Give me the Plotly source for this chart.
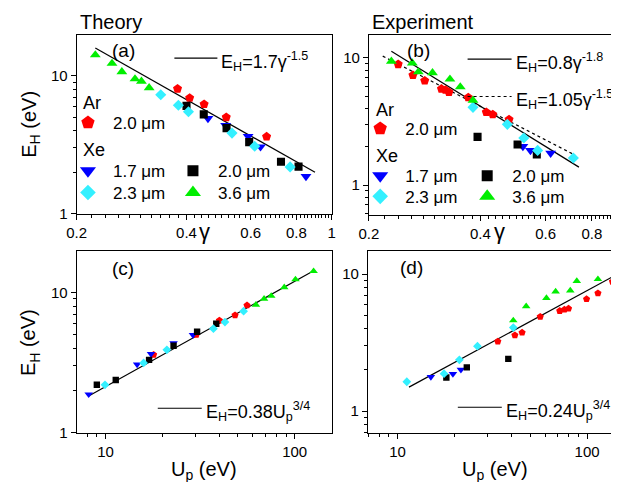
import numpy as np
import plotly.graph_objects as go

W, H = 619, 482
FONT = "Liberation Sans, Arial, sans-serif"

# ---------------- data ----------------
# panel (a): theory, E_H vs gamma
a_ar20_g = [0.378, 0.408, 0.447, 0.514, 0.663]
a_ar20_e = [8.05, 6.91, 6.23, 5.00, 3.62]
a_xe17_g = [0.458, 0.512, 0.590, 0.638, 0.850]
a_xe17_e = [4.91, 4.36, 3.64, 3.05, 1.86]
a_xe20_g = [0.400, 0.446, 0.515, 0.594, 0.726, 0.811]
a_xe20_e = [6.05, 5.25, 4.17, 3.30, 2.38, 2.19]
a_xe23_g = [0.340, 0.380, 0.405, 0.533, 0.615, 0.769]
a_xe23_e = [7.29, 6.12, 5.49, 3.84, 3.08, 2.18]
a_xe36_g = [0.225, 0.250, 0.266, 0.289, 0.301, 0.316]
a_xe36_e = [14.2, 12.3, 10.7, 9.49, 9.13, 8.18]
a_fit_g = [0.225, 0.90]

# panel (b): experiment, E_H vs gamma
b_ar20_g = [0.240, 0.263, 0.283, 0.314, 0.322, 0.329, 0.371, 0.415, 0.432, 0.478]
b_ar20_e = [8.89, 7.31, 6.60, 5.70, 5.59, 5.36, 4.88, 3.74, 3.59, 3.28]
b_xe17_g = [0.521, 0.546, 0.619]
b_xe17_e = [2.01, 1.87, 1.78]
b_xe20_g = [0.393, 0.504, 0.568]
b_xe20_e = [2.39, 2.08, 1.74]
b_xe23_g = [0.382, 0.473, 0.524, 0.571, 0.713]
b_xe23_e = [4.08, 3.00, 2.34, 1.87, 1.63]
b_xe36_g = [0.230, 0.262, 0.272, 0.297, 0.331, 0.353, 0.382]
b_xe36_e = [9.38, 9.10, 7.75, 7.62, 6.80, 5.90, 4.63]
b_fit1_g = [0.230, 0.738]
b_fit2_g = [0.218, 0.720]

# panel (c): theory, E_H vs Up
c_ar20_u = [17.96, 30.2, 40.0, 48.4, 56.0]
c_ar20_e = [3.61, 5.01, 6.32, 6.90, 8.11]
c_xe17_u = [8.15, 14.7, 17.4, 22.9, 29.0]
c_xe17_e = [1.88, 3.07, 3.65, 4.36, 4.99]
c_xe20_u = [9.0, 11.33, 17.0, 22.9, 30.5, 38.5]
c_xe20_e = [2.20, 2.38, 3.31, 4.18, 5.26, 5.99]
c_xe23_u = [9.94, 15.9, 21.1, 37.2, 42.8, 53.7]
c_xe23_e = [2.20, 3.15, 3.91, 5.53, 6.16, 7.36]
c_xe36_u = [62.4, 68.9, 75.2, 88.1, 101.0, 125.9]
c_xe36_e = [8.18, 9.02, 9.47, 10.9, 12.4, 14.2]
c_fit_u = [8.15, 126.0]

# panel (d): experiment, E_H vs Up
d_ar20_u = [33.8, 41.6, 45.4, 56.6, 71.7, 75.9, 79.8, 99.3, 114.0, 136.0]
d_ar20_e = [3.23, 3.59, 3.75, 4.89, 5.40, 5.52, 5.61, 6.58, 7.27, 8.82]
d_xe17_u = [15.0, 19.6, 21.6]
d_xe17_e = [1.78, 1.87, 2.01]
d_xe20_u = [18.1, 23.2, 38.4]
d_xe20_e = [1.76, 2.09, 2.41]
d_xe23_u = [11.2, 17.6, 21.2, 26.4, 40.8]
d_xe23_e = [1.64, 1.88, 2.37, 2.98, 4.08]
d_xe36_u = [40.8, 47.7, 61.0, 68.2, 81.5, 88.2, 114.0]
d_xe36_e = [4.60, 5.83, 6.69, 7.47, 7.60, 8.90, 9.20]
d_fit_u = [11.5, 136.0]

gamma_ticks = [0.2, 0.4, 0.6, 0.8, 1.0]
gamma_ticktext = ["0.2", "0.4", "0.6", "0.8", "1"]
up_ticks = [10, 100]
up_ticktext = ["10", "100"]
eh_ticks = [1, 10]
eh_ticktext = ["1", "10"]

# ---------------- styles ----------------
RED, BLUE, BLACK, CYAN, GREEN = "#FF0000", "#0000FF", "#000000", "#33F0FF", "#00EE00"
series_style = {
    "ar20": dict(color=RED, symbol="pentagon", name="2.0 μm", scale=1.0, lsize=14),
    "xe17": dict(color=BLUE, symbol="triangle-down", name="1.7 μm", scale=1.0, lsize=14),
    "xe20": dict(color=BLACK, symbol="square", name="2.0 μm", scale=0.85, lsize=11),
    "xe23": dict(color=CYAN, symbol="diamond", name="2.3 μm", scale=0.9, lsize=12),
    "xe36": dict(color=GREEN, symbol="triangle-up", name="3.6 μm", scale=1.0, lsize=14),
}


def P(x):
    return x / W


def Q(y):
    return 1 - y / H


fig = go.Figure()

panels = {
    "a": ("x", "y", {"ar20": (a_ar20_g, a_ar20_e), "xe17": (a_xe17_g, a_xe17_e),
                     "xe20": (a_xe20_g, a_xe20_e), "xe23": (a_xe23_g, a_xe23_e),
                     "xe36": (a_xe36_g, a_xe36_e)}, 9.5),
    "b": ("x2", "y2", {"ar20": (b_ar20_g, b_ar20_e), "xe17": (b_xe17_g, b_xe17_e),
                       "xe20": (b_xe20_g, b_xe20_e), "xe23": (b_xe23_g, b_xe23_e),
                       "xe36": (b_xe36_g, b_xe36_e)}, 9.5),
    "c": ("x3", "y3", {"ar20": (c_ar20_u, c_ar20_e), "xe17": (c_xe17_u, c_xe17_e),
                       "xe20": (c_xe20_u, c_xe20_e), "xe23": (c_xe23_u, c_xe23_e),
                       "xe36": (c_xe36_u, c_xe36_e)}, 7.5),
    "d": ("x4", "y4", {"ar20": (d_ar20_u, d_ar20_e), "xe17": (d_xe17_u, d_xe17_e),
                       "xe20": (d_xe20_u, d_xe20_e), "xe23": (d_xe23_u, d_xe23_e),
                       "xe36": (d_xe36_u, d_xe36_e)}, 7.5),
}


# fit lines
def fitline(xs, coef, power, xa, ya, dash="solid"):
    xx = np.geomspace(xs[0], xs[1], 40)
    fig.add_trace(go.Scatter(x=xx, y=coef * xx ** power, mode="lines", xaxis=xa, yaxis=ya,
                             line=dict(color="black", width=1.2, dash=dash), showlegend=False,
                             hoverinfo="skip"))


fitline(a_fit_g, 1.7, -1.5, "x", "y")
fitline(b_fit1_g, 0.8, -1.8, "x2", "y2")
fitline(b_fit2_g, 1.05, -1.5, "x2", "y2", dash="dot")
fitline(c_fit_u, 0.38, 0.75, "x3", "y3")
fitline(d_fit_u, 0.24, 0.75, "x4", "y4")

for key, (xa, ya, ser, msize) in panels.items():
    for sk in ["ar20", "xe17", "xe20", "xe23", "xe36"]:
        xs, ys = ser[sk]
        st = series_style[sk]
        fig.add_trace(go.Scatter(x=xs, y=ys, mode="markers", xaxis=xa, yaxis=ya,
                                 marker=dict(color=st["color"], symbol=st["symbol"],
                                             size=msize * st["scale"], line=dict(width=0)),
                                 showlegend=False, name=st["name"]))

# legend entries (markers only, no data)
legend_map = {
    "a": {"ar20": "legend", "xe17": "legend2", "xe20": "legend2", "xe23": "legend3", "xe36": "legend3"},
    "b": {"ar20": "legend4", "xe17": "legend5", "xe20": "legend5", "xe23": "legend6", "xe36": "legend6"},
}
for key, m in legend_map.items():
    xa, ya = panels[key][0], panels[key][1]
    for sk in ["ar20", "xe17", "xe20", "xe23", "xe36"]:
        st = series_style[sk]
        fig.add_trace(go.Scatter(x=[None], y=[None], mode="markers", xaxis=xa, yaxis=ya,
                                 marker=dict(color=st["color"], symbol=st["symbol"], size=st["lsize"],
                                             line=dict(width=0)),
                                 name=st["name"], legend=m[sk], showlegend=True))


def leg(x, y, orient="v", entrywidth=None):
    d = dict(x=P(x), y=Q(y), xref="paper", yref="paper", xanchor="left", yanchor="middle",
             bgcolor="rgba(0,0,0,0)", borderwidth=0, orientation=orient,
             font=dict(family=FONT, size=17, color="black"), itemsizing="trace",
             itemwidth=40, tracegroupgap=0, itemclick=False, itemdoubleclick=False)
    if entrywidth:
        d["entrywidth"] = entrywidth
        d["entrywidthmode"] = "pixels"
    return d


LX = 39
fig.update_layout(
    legend=leg(85 - LX, 117),
    legend2=leg(85 - LX, 166, "h", 50),
    legend3=leg(85 - LX, 188, "h", 50),
    legend4=leg(384 - LX, 123),
    legend5=leg(384 - LX, 171, "h", 52),
    legend6=leg(384 - LX, 192, "h", 52),
)


def logaxis(domain_px, rng, tickvals, ticktext, minor_vals, anchor, horiz):
    if horiz:
        dom = [P(domain_px[0]), P(domain_px[1])]
    else:
        dom = [Q(domain_px[1]), Q(domain_px[0])]
    return dict(type="log", domain=dom, range=rng, tickmode="array", tickvals=tickvals,
                ticktext=ticktext, ticks="outside", ticklen=5, tickwidth=1, tickcolor="black",
                showline=True, linecolor="black", linewidth=1, mirror=True, showgrid=False,
                zeroline=False, tickfont=dict(family=FONT, size=15, color="black"),
                minor=dict(tickmode="array", tickvals=minor_vals, ticks="outside", ticklen=3,
                           tickcolor="black", tickwidth=1, showgrid=False),
                anchor=anchor, fixedrange=True)


g_minor = [round(0.2 + 0.02 * i, 2) for i in range(41)]
g_minor = [v for v in g_minor if v not in gamma_ticks]
e_minor = [0.6, 0.7, 0.8, 0.9, 2, 3, 4, 5, 6, 7, 8, 9, 20]
u_minor = [7, 8, 9, 20, 30, 40, 50, 60, 70, 80, 90, 200]

fig.update_layout(
    xaxis=logaxis([60, 321], [np.log10(0.2), 0.0], gamma_ticks, gamma_ticktext, g_minor, "y", True),
    yaxis=logaxis([27, 209], [0.0, 1.3], eh_ticks, eh_ticktext, e_minor, "x", False),
    xaxis2=logaxis([359, 618], [np.log10(0.2), -0.0156], gamma_ticks, gamma_ticktext, g_minor, "y2", True),
    yaxis2=logaxis([27, 210], [-0.232, 1.183], eh_ticks, eh_ticktext, e_minor, "x2", False),
    xaxis3=logaxis([60, 321], [0.8475, 2.196], up_ticks, up_ticktext, u_minor, "y3", True),
    yaxis3=logaxis([247, 432], [0.0, 1.297], eh_ticks, eh_ticktext, e_minor, "x3", False),
    xaxis4=logaxis([358, 618], [0.844, 2.184], up_ticks, up_ticktext, u_minor, "y4", True),
    yaxis4=logaxis([247, 432], [-0.158, 1.170], eh_ticks, eh_ticktext, e_minor, "x4", False),
)

ann = []


def text(x, y, s, size=17, xanchor="left", yanchor="middle", angle=0):
    ann.append(dict(x=P(x), y=Q(y), xref="paper", yref="paper", text=s, showarrow=False,
                    xanchor=xanchor, yanchor=yanchor, textangle=angle,
                    font=dict(family=FONT, size=size, color="black")))


text(61, 14, "Theory", 20)
text(360, 14, "Experiment", 20)
text(94, 43, "(a)", 19)
text(396, 43, "(b)", 19)
text(94, 265, "(c)", 19)
text(389, 264, "(d)", 19)
text(64, 97, "Ar", 18)
text(64, 144, "Xe", 18)
text(364, 104, "Ar", 18)
text(364, 151, "Xe", 18)

# fit-line legend samples
shapes = []


def sample(x0, x1, y, dash="solid"):
    shapes.append(dict(type="line", xref="paper", yref="paper", x0=P(x0), x1=P(x1), y0=Q(y), y1=Q(y),
                       line=dict(color="black", width=1.2, dash=dash)))


sample(160, 204, 51)
text(206, 54, "E<sub>H</sub>=1.7γ<sup>-1.5</sup>", 18)
sample(460, 505, 52)
text(507, 55, "E<sub>H</sub>=0.8γ<sup>-1.8</sup>", 18)
sample(460, 505, 90, "dot")
text(507, 93, "E<sub>H</sub>=1.05γ<sup>-1.5</sup>", 18)
sample(143, 188, 407)
text(190, 410, "E<sub>H</sub>=0.38U<sub>p</sub><sup>3/4</sup>", 18)
sample(450, 495, 406)
text(497, 409, "E<sub>H</sub>=0.24U<sub>p</sub><sup>3/4</sup>", 18)

# axis titles
text(12, 118, "E<sub>H</sub> (eV)", 20, "center", "middle", -90)
text(12, 340, "E<sub>H</sub> (eV)", 20, "center", "middle", -90)
text(191, 227, "γ", 22, "center", "middle")
text(493, 227, "γ", 22, "center", "middle")
text(190, 470, "U<sub>p</sub> (eV)", 20, "center", "middle")
text(488, 470, "U<sub>p</sub> (eV)", 20, "center", "middle")

fig.update_layout(
    width=W, height=H, margin=dict(l=0, r=0, t=0, b=0, pad=0),
    paper_bgcolor="white", plot_bgcolor="white",
    annotations=ann, shapes=shapes, showlegend=True,
    font=dict(family=FONT, color="black"),
)

fig.write_html("out.html")
